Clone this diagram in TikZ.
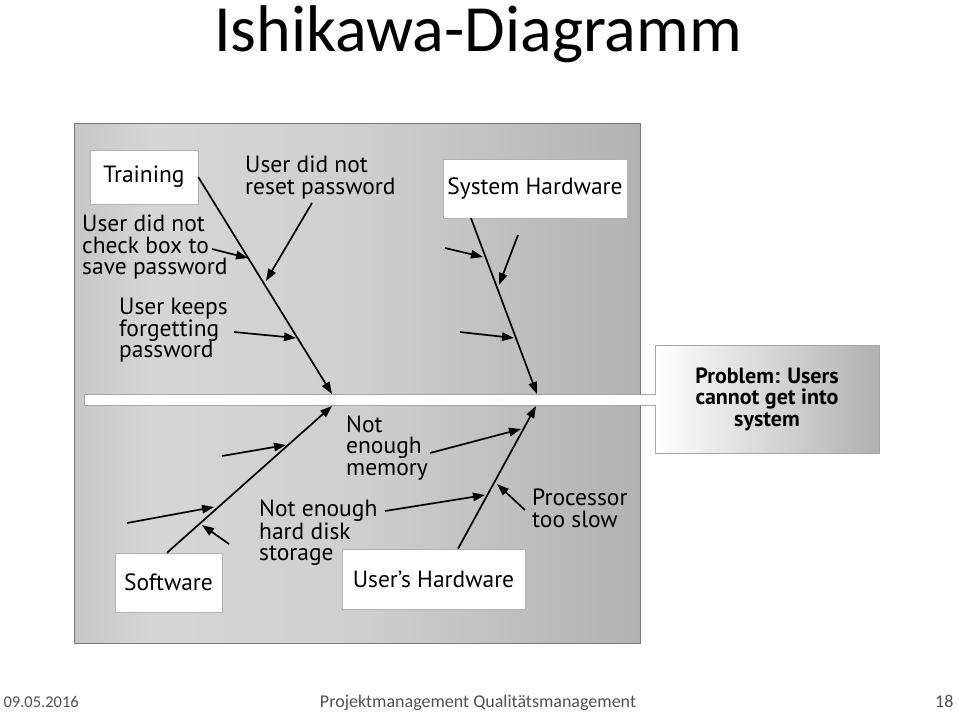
\documentclass[tikz,border=0pt]{standalone}
\usepackage{fontspec}
\setmainfont{Carlito}
\newfontfamily\figfont{PT Sans}
\usetikzlibrary{arrows.meta,positioning,calc}
\definecolor{PanelEdgeL}{HTML}{C6C6C6}
\definecolor{PanelLight}{HTML}{D6D6D6}
\definecolor{PanelMid}{HTML}{CFCFCF}
\definecolor{PanelDark}{HTML}{B2B2B2}
\definecolor{PanelLine}{HTML}{7A7A7A}
\definecolor{ProbDark}{HTML}{B0B0B0}
\definecolor{FootGray}{HTML}{505050}
\pgfdeclarehorizontalshading{panelshade}{100bp}{color(0bp)=(PanelEdgeL); color(25bp)=(PanelEdgeL);
  color(32bp)=(PanelLight); color(50bp)=(PanelMid); color(75bp)=(PanelDark); color(100bp)=(PanelDark)}

\begin{document}
\begin{tikzpicture}[x=1pt,y=-1pt,
      cat/.style={draw=gray!60,line width=0.5pt,fill=white,inner sep=0pt,
                  font=\figfont\fontsize{23.5}{21.5}\selectfont},
      cause/.style={inner sep=0pt,align=left,anchor=west,
                  font=\figfont\fontsize{23.5}{21.5}\selectfont},
      bone/.style={line width=1.7pt,-{Triangle[length=12pt,width=8.5pt]}},
      arr/.style={bone},
      foot/.style={text=FootGray,font=\fontsize{18}{20}\selectfont},
    ]
    \useasboundingbox (0,0) rectangle (959,713);

    \node[font=\fontsize{66}{70}\selectfont,anchor=base] (title) at (478,51) {Ishikawa-Diagramm};

    % panel, spine, problem
    \path[shading=panelshade,draw=PanelLine,line width=0.8pt] (74,123) rectangle (640,643);
    \node[draw=gray!70,line width=0.6pt,left color=white,right color=ProbDark,
          minimum width=224pt,minimum height=108pt,align=center,
          font=\figfont\bfseries\fontsize{22}{21.5}\selectfont] (prob) at (767,399)
         {Problem: Users\\ cannot get into\\ system};
    \fill[white] (84,394) rectangle (657,405);
    \draw[gray!70,line width=0.5pt] (656,394) -- (84,394) -- (84,405) -- (656,405);

    \coordinate (tipT) at (332,394);
    \coordinate (tipS) at (537,394);
    \coordinate (tipW) at (332,406);
    \coordinate (tipU) at (536,406);

    % categories
    \node[cat,minimum width=108pt,minimum height=54pt] (train) at (144,177) {Training};
    \node[cat,minimum width=184pt,minimum height=59pt] (syshw) at (535,188.5) {System Hardware};
    \node[cat,minimum width=107pt,minimum height=59pt] (soft) at (168.5,582.5) {Software};
    \node[cat,minimum width=183pt,minimum height=60pt] (userhw) at (433.5,579) {User’s Hardware};

    \draw[bone] (train.east) -- (tipT);
    \draw[bone] ([xshift=-64pt]syshw.south) -- (tipS);
    \draw[bone] ([xshift=-1.5pt]soft.north) -- (tipW);
    \draw[bone] ([xshift=24.5pt]userhw.north) -- (tipU);

    % causes
    \node[cause] (reset) at (245,177.5) {User did not\\ reset password};
    \node[cause] (chkbox) at (82,247.5) {User did not\\ check box to\\ save password};
    \node[cause] (forget) at (119,330.5) {User keeps\\ forgetting\\ password};
    \node[cause] (memory) at (346,448) {Not\\ enough\\ memory};
    \node[cause] (disk) at (259,533) {Not enough\\ hard disk\\ storage};
    \node[cause] (cpu) at (532,508.5) {Processor\\ too slow};

    \coordinate (a1) at (312,203);  \coordinate (t1) at (266,281);
    \coordinate (a2) at (212,249);  \coordinate (t2) at (248,258);
    \coordinate (a3) at (234,332);  \coordinate (t3) at (296,338);
    \coordinate (a4) at (445,248);  \coordinate (t4) at (483,257);
    \coordinate (a5) at (518,235);  \coordinate (t5) at (499,285);
    \coordinate (a6) at (460,332);  \coordinate (t6) at (514,338);
    \coordinate (a7) at (222,456);  \coordinate (t7) at (286,445);
    \coordinate (a8) at (127,523);  \coordinate (t8) at (214,507);
    \coordinate (a9) at (229,544);  \coordinate (t9) at (202,525);
    \coordinate (a10) at (430,453); \coordinate (t10) at (521,429);
    \coordinate (a11) at (385,511); \coordinate (t11) at (485,495);
    \coordinate (a12) at (525,510); \coordinate (t12) at (497,484);

    \foreach \i in {1,...,12}
      \draw[arr] (a\i) -- (t\i);

    % footer
    \node[foot,anchor=base west,font=\fontsize{16.5}{20}\selectfont] (date) at (0,707) {09.05.2016};
    \node[foot,anchor=base] (footmid) at (478,707) {Projektmanagement Qualitätsmanagement};
    \node[foot,anchor=base east] (page) at (957,707) {18};
  \end{tikzpicture}
\end{document}
